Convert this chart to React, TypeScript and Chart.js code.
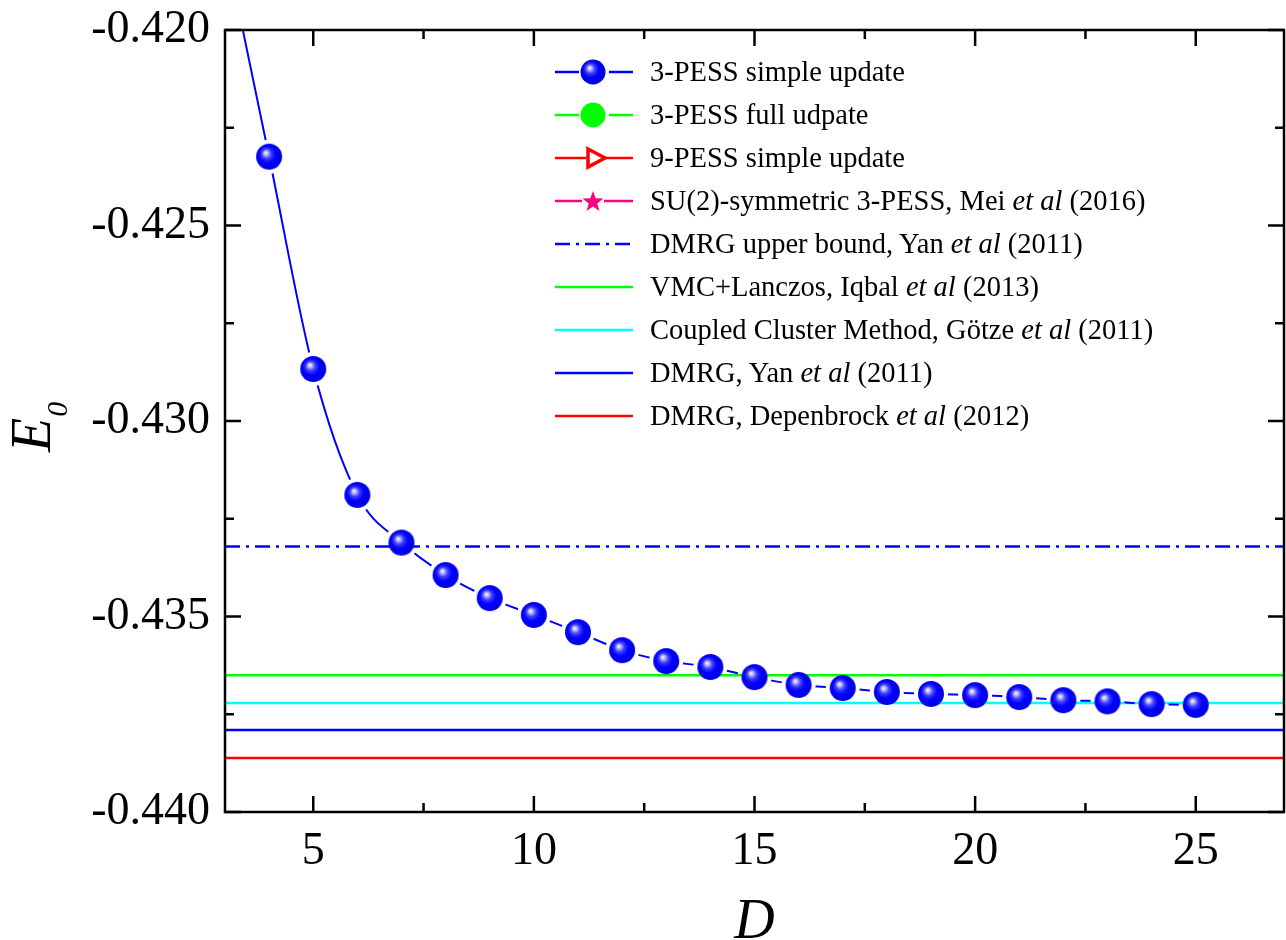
import React, { useEffect, useRef } from "react";
import { Chart, registerables } from "chart.js";

Chart.register(...registerables);

// ---------------- data ----------------
const D_VALUES = [3, 4, 5, 6, 7, 8, 9, 10, 11, 12, 13, 14, 15, 16, 17, 18, 19, 20, 21, 22, 23, 24, 25];
const E_SIMPLE_UPDATE = [
  -0.4178, -0.42324, -0.42867, -0.43189, -0.43311, -0.43394, -0.43453, -0.43496, -0.4354, -0.43586,
  -0.43614, -0.43629, -0.43655, -0.43675, -0.43683, -0.43693, -0.43698, -0.43701, -0.43706, -0.43714,
  -0.43717, -0.43724, -0.43726,
];
const DMRG_UPPER_BOUND = -0.43321;
const VMC_LANCZOS = -0.4365;
const CCM_GOTZE = -0.43721;
const DMRG_YAN = -0.4379;
const DMRG_DEPENBROCK = -0.43862;

const X_MIN = 3;
const X_MAX = 27;
const Y_MIN = -0.44;
const Y_MAX = -0.42;
const X_MAJOR_TICKS = [5, 10, 15, 20, 25];
const X_MINOR_TICKS = [7.5, 12.5, 17.5, 22.5];
const Y_MAJOR_TICKS = [-0.44, -0.435, -0.43, -0.425, -0.42];
const Y_MINOR_TICKS = [-0.4375, -0.4325, -0.4275, -0.4225];

const LEGEND_LABELS = [
  "3-PESS simple update",
  "3-PESS full udpate",
  "9-PESS simple update",
  "SU(2)-symmetric 3-PESS, Mei et al (2016)",
  "DMRG upper bound, Yan et al (2011)",
  "VMC+Lanczos, Iqbal et al (2013)",
  "Coupled Cluster Method, Götze et al (2011)",
  "DMRG, Yan et al (2011)",
  "DMRG, Depenbrock et al (2012)",
];
const LEGEND_KINDS = ["sphere", "green", "triangle", "star", "dashdot", "lineGreen", "lineCyan", "lineBlue", "lineRed"];

const FONT = '"Liberation Serif", "Times New Roman", serif';
const GAP = 17;

function makeSphere(): HTMLCanvasElement {
  const c = document.createElement("canvas");
  c.width = 28;
  c.height = 28;
  const g = c.getContext("2d")!;
  const cx = 14, cy = 14, r = 13;
  const grad = g.createRadialGradient(cx - 3.5, cy - 4, 0, cx - 1, cy - 1, r + 1);
  grad.addColorStop(0, "#ffffff");
  grad.addColorStop(0.12, "#c8c8ff");
  grad.addColorStop(0.35, "#3c3cff");
  grad.addColorStop(0.6, "#0000ff");
  grad.addColorStop(1, "#0000e0");
  g.fillStyle = grad;
  g.beginPath();
  g.arc(cx, cy, r, 0, Math.PI * 2);
  g.fill();
  return c;
}

const gapPlugin = {
  id: "gapPlugin",
  beforeDatasetDraw(chart: any, args: any) {
    if (args.index !== 1) return;
    const pts = chart.getDatasetMeta(0).data;
    const ctx = chart.ctx;
    ctx.save();
    ctx.beginPath();
    ctx.rect(0, 0, chart.width, chart.height);
    for (const p of pts) {
      ctx.moveTo(p.x + GAP, p.y);
      ctx.arc(p.x, p.y, GAP, 0, Math.PI * 2);
    }
    ctx.clip("evenodd");
  },
  afterDatasetDraw(chart: any, args: any) {
    if (args.index !== 1) return;
    chart.ctx.restore();
  },
};

const framePlugin = {
  id: "framePlugin",
  afterDraw(chart: any) {
    const { ctx, chartArea: a } = chart;
    const xs = chart.scales.x;
    const ys = chart.scales.y;
    ctx.save();
    ctx.strokeStyle = "#000";
    ctx.lineWidth = 2.5;
    ctx.strokeRect(a.left, a.top, a.right - a.left, a.bottom - a.top);
    ctx.beginPath();
    const MAJ = 16, MIN = 9;
    for (const v of X_MAJOR_TICKS) {
      const p = xs.getPixelForValue(v);
      ctx.moveTo(p, a.bottom); ctx.lineTo(p, a.bottom - MAJ);
      ctx.moveTo(p, a.top); ctx.lineTo(p, a.top + MAJ);
    }
    for (const v of X_MINOR_TICKS) {
      const p = xs.getPixelForValue(v);
      ctx.moveTo(p, a.bottom); ctx.lineTo(p, a.bottom - MIN);
      ctx.moveTo(p, a.top); ctx.lineTo(p, a.top + MIN);
    }
    for (const v of Y_MAJOR_TICKS) {
      const p = ys.getPixelForValue(v);
      ctx.moveTo(a.left, p); ctx.lineTo(a.left + MAJ, p);
      ctx.moveTo(a.right, p); ctx.lineTo(a.right - MAJ, p);
    }
    for (const v of Y_MINOR_TICKS) {
      const p = ys.getPixelForValue(v);
      ctx.moveTo(a.left, p); ctx.lineTo(a.left + MIN, p);
      ctx.moveTo(a.right, p); ctx.lineTo(a.right - MIN, p);
    }
    ctx.stroke();

    // axis titles
    ctx.fillStyle = "#000";
    ctx.textBaseline = "alphabetic";
    ctx.textAlign = "center";
    ctx.font = `italic 56px ${FONT}`;
    ctx.fillText("D", (a.left + a.right) / 2, 938);

    ctx.save();
    ctx.translate(50, 452);
    ctx.rotate(-Math.PI / 2);
    ctx.textAlign = "left";
    ctx.font = `italic 56px ${FONT}`;
    ctx.fillText("E", 0, 0);
    const w = ctx.measureText("E").width;
    ctx.font = `italic 30px ${FONT}`;
    ctx.fillText("0", w + 1, 17);
    ctx.restore();
    ctx.restore();
  },
};

function LegendSample({ kind }: { kind: string }) {
  const y = 16;
  const line = (color: string, gap: boolean, dash?: string) =>
    gap ? (
      <>
        <line x1={0} y1={y} x2={24} y2={y} stroke={color} strokeWidth={2.5} />
        <line x1={54} y1={y} x2={78} y2={y} stroke={color} strokeWidth={2.5} />
      </>
    ) : (
      <line x1={0} y1={y} x2={78} y2={y} stroke={color} strokeWidth={2.5} strokeDasharray={dash} />
    );
  let content: any = null;
  if (kind === "sphere") {
    content = (
      <>
        {line("#0000ff", true)}
        <circle cx={38} cy={y} r={12.5} fill="url(#legSphere)" />
      </>
    );
  } else if (kind === "green") {
    content = (
      <>
        {line("#00ff00", true)}
        <circle cx={38} cy={y} r={12.5} fill="#00ff00" />
      </>
    );
  } else if (kind === "triangle") {
    content = (
      <>
        <line x1={0} y1={y} x2={31} y2={y} stroke="#ff0000" strokeWidth={2.5} />
        <line x1={50} y1={y} x2={78} y2={y} stroke="#ff0000" strokeWidth={2.5} />
        <polygon points={`33,${y - 9} 50,${y} 33,${y + 9}`} fill="none" stroke="#ff0000" strokeWidth={3.5} strokeLinejoin="miter" />
      </>
    );
  } else if (kind === "star") {
    const pts: string[] = [];
    for (let i = 0; i < 10; i++) {
      const r = i % 2 === 0 ? 11 : 4.5;
      const ang = -Math.PI / 2 + (i * Math.PI) / 5;
      pts.push(`${38 + r * Math.cos(ang)},${y + 1 + r * Math.sin(ang)}`);
    }
    content = (
      <>
        <line x1={0} y1={y} x2={27} y2={y} stroke="#ff0080" strokeWidth={2.5} />
        <line x1={49} y1={y} x2={78} y2={y} stroke="#ff0080" strokeWidth={2.5} />
        <polygon points={pts.join(" ")} fill="#ff0080" />
      </>
    );
  } else if (kind === "dashdot") {
    content = line("#0000ff", false, "15 6 3 6");
  } else if (kind === "lineGreen") content = line("#00ff00", false);
  else if (kind === "lineCyan") content = line("#00ffff", false);
  else if (kind === "lineBlue") content = line("#0000ff", false);
  else if (kind === "lineRed") content = line("#ff0000", false);
  return (
    <svg width={80} height={32} style={{ display: "block", flex: "none" }}>
      <defs>
        <radialGradient id="legSphere" cx="0.45" cy="0.45" r="0.55" fx="0.36" fy="0.33">
          <stop offset="0" stopColor="#ffffff" />
          <stop offset="0.12" stopColor="#c8c8ff" />
          <stop offset="0.35" stopColor="#3c3cff" />
          <stop offset="0.6" stopColor="#0000ff" />
          <stop offset="1" stopColor="#0000e0" />
        </radialGradient>
      </defs>
      {content}
    </svg>
  );
}

function renderLabel(text: string) {
  const parts = text.split("et al");
  if (parts.length === 1) return text;
  return (
    <>
      {parts[0]}
      <i>et al</i>
      {parts[1]}
    </>
  );
}

export default function App() {
  const ref = useRef<HTMLCanvasElement | null>(null);

  useEffect(() => {
    if (!ref.current) return;
    const sphere = makeSphere();
    const series = D_VALUES.map((d, i) => ({ x: d, y: E_SIMPLE_UPDATE[i] }));
    const hline = (v: number) => [
      { x: X_MIN, y: v },
      { x: X_MAX, y: v },
    ];
    const chart = new Chart(ref.current, {
      type: "line",
      data: {
        datasets: [
          {
            label: "3-PESS simple update (markers)",
            data: series,
            showLine: false,
            pointStyle: sphere as any,
            pointRadius: 13,
            pointHoverRadius: 13,
            borderColor: "#0000ff",
            backgroundColor: "#0000ff",
          },
          {
            label: "3-PESS simple update",
            data: series,
            borderColor: "#0000ff",
            borderWidth: 2,
            pointRadius: 0,
            cubicInterpolationMode: "monotone",
          },
          { label: "DMRG upper bound", data: hline(DMRG_UPPER_BOUND), borderColor: "#0000ff", borderWidth: 2.5, borderDash: [15, 6, 3, 6], pointRadius: 0 },
          { label: "VMC+Lanczos", data: hline(VMC_LANCZOS), borderColor: "#00ff00", borderWidth: 2.5, pointRadius: 0 },
          { label: "CCM", data: hline(CCM_GOTZE), borderColor: "#00ffff", borderWidth: 2.5, pointRadius: 0 },
          { label: "DMRG Yan", data: hline(DMRG_YAN), borderColor: "#0000ff", borderWidth: 2.5, pointRadius: 0 },
          { label: "DMRG Depenbrock", data: hline(DMRG_DEPENBROCK), borderColor: "#ff0000", borderWidth: 2.5, pointRadius: 0 },
        ] as any,
      },
      options: {
        responsive: false,
        animation: false,
        events: [],
        layout: { autoPadding: false, padding: { left: 0, right: 2, top: 30, bottom: 0 } },
        plugins: { legend: { display: false }, tooltip: { enabled: false } },
        scales: {
          x: {
            type: "linear",
            min: X_MIN,
            max: X_MAX,
            grid: { display: false, drawTicks: false },
            border: { display: false },
            afterBuildTicks: (s: any) => {
              s.ticks = X_MAJOR_TICKS.map((v) => ({ value: v }));
            },
            afterFit: (s: any) => {
              s.height = 128;
              s.paddingLeft = 0;
              s.paddingRight = 0;
            },
            ticks: {
              color: "#000",
              padding: 12,
              maxRotation: 0,
              autoSkip: false,
              font: { family: FONT, size: 46 },
              callback: (v: any) => String(v),
            },
          },
          y: {
            type: "linear",
            min: Y_MIN,
            max: Y_MAX,
            grid: { display: false, drawTicks: false },
            border: { display: false },
            afterBuildTicks: (s: any) => {
              s.ticks = Y_MAJOR_TICKS.map((v) => ({ value: v }));
            },
            afterFit: (s: any) => {
              s.width = 225;
              s.paddingTop = 0;
              s.paddingBottom = 0;
            },
            ticks: {
              color: "#000",
              padding: 15,
              autoSkip: false,
              font: { family: FONT, size: 46 },
              callback: (v: any) => Number(v).toFixed(3),
            },
          },
        },
      },
      plugins: [gapPlugin, framePlugin],
    } as any);
    return () => chart.destroy();
  }, []);

  return (
    <div style={{ position: "absolute", left: 0, top: 0, width: 1286, height: 940, background: "#fff" }}>
      <canvas ref={ref} width={1286} height={940} style={{ display: "block" }} />
      {LEGEND_LABELS.map((label, i) => (
        <div
          key={i}
          style={{
            position: "absolute",
            left: 555,
            top: 72 + 43 * i - 16,
            height: 32,
            display: "flex",
            alignItems: "center",
            whiteSpace: "nowrap",
          }}
        >
          <LegendSample kind={LEGEND_KINDS[i]} />
          <span style={{ marginLeft: 15, fontFamily: FONT, fontSize: 28.5, lineHeight: "32px", color: "#000" }}>
            {renderLabel(label)}
          </span>
        </div>
      ))}
    </div>
  );
}
